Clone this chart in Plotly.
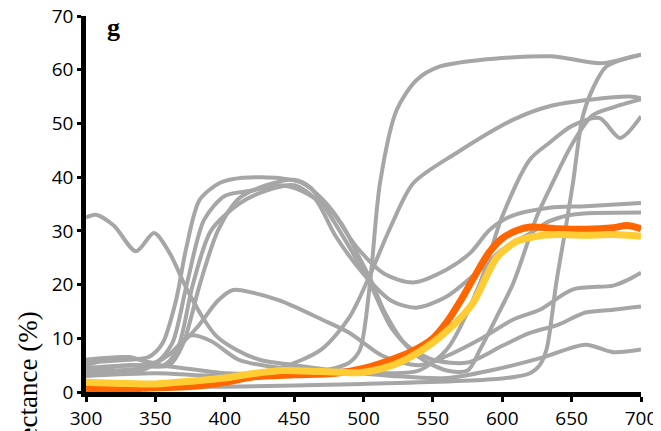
import plotly.graph_objects as go

# ---- data (wavelength nm, reflectance %) ----
g1_x = [300, 307, 320, 336, 349, 360, 372, 385, 394, 408, 425, 450, 480, 520, 560, 600, 630, 660, 680, 700]
g1_y = [32.5, 33.0, 31.0, 26.2, 29.6, 26.0, 19.5, 13.5, 10.4, 7.9, 6.0, 5.0, 4.0, 3.0, 2.6, 4.5, 6.5, 8.8, 7.4, 7.9]

h1_x = [300, 330, 345, 355, 365, 372, 382, 397, 413, 440, 455, 470, 485, 495, 505, 515, 530, 550, 575, 600, 620, 640, 660, 680, 700]
h1_y = [5.5, 6.0, 6.5, 9.0, 17.2, 26.5, 35.8, 39.0, 39.9, 39.8, 39.0, 36.0, 31.0, 26.0, 21.0, 15.0, 9.0, 6.0, 5.5, 8.6, 11.0, 12.5, 14.8, 15.3, 15.9]

h2_x = [300, 330, 350, 362, 372.6, 385, 400, 420, 440, 455, 476, 495, 515, 536, 560, 577, 591, 606, 634, 660, 700]
h2_y = [6.0, 6.5, 5.5, 9.0, 20.0, 32.0, 36.5, 37.5, 38.5, 37.5, 33.9, 27.0, 22.0, 20.4, 22.8, 25.9, 30.2, 32.7, 34.3, 34.6, 35.2]

h3_x = [300, 330, 356, 366, 377, 390, 410, 430, 450, 465, 480, 500, 520, 538, 560, 584, 600, 620, 634, 650, 700]
h3_y = [5.0, 6.5, 5.0, 8.0, 20.0, 30.0, 35.0, 37.5, 38.5, 36.0, 29.0, 22.0, 17.0, 15.7, 17.8, 22.8, 26.5, 29.5, 31.8, 33.0, 33.4]

h4_x = [300, 330, 360, 370, 382, 395, 410, 430, 450, 462, 478, 492, 505, 520, 540, 560, 575, 584, 596, 608, 625, 634, 650, 665, 680, 700]
h4_y = [4.0, 5.0, 5.0, 9.0, 20.0, 30.0, 36.0, 38.5, 39.5, 38.0, 32.0, 26.0, 20.0, 12.0, 6.5, 4.0, 4.0, 7.9, 14.0, 20.3, 32.7, 37.7, 46.0, 51.5, 53.0, 54.5]

k_x = [300, 340, 360, 380, 395, 406, 420, 440, 470, 490, 514, 540, 560, 584, 608, 627, 651, 680, 690, 700]
k_y = [4.0, 4.5, 7.0, 12.0, 17.0, 19.0, 18.5, 17.0, 13.5, 11.0, 6.7, 5.0, 6.7, 9.8, 13.5, 15.3, 19.1, 19.8, 20.8, 22.2]

m_x = [300, 340, 360, 375, 390, 410, 440, 470, 490, 520, 540, 560, 584, 600, 620, 634, 650, 670, 685, 700]
m_y = [3.5, 4.0, 7.0, 10.5, 9.5, 6.0, 4.5, 4.0, 4.0, 3.5, 4.0, 7.9, 20.3, 32.7, 43.3, 46.4, 49.5, 51.0, 47.3, 51.3]

e1_x = [300, 350, 400, 440, 470, 490, 505, 520, 536, 567, 608, 634, 663, 692, 700]
e1_y = [3.0, 3.5, 3.0, 4.5, 8.0, 14.0, 22.0, 31.0, 38.9, 44.5, 50.7, 53.2, 54.4, 55.0, 54.7]

c1_x = [300, 350, 400, 450, 480, 490, 497.5, 504.7, 511.9, 523.9, 538.3, 555.1, 584, 634.4, 670.5, 684.9, 700]
c1_y = [4.5, 5.0, 3.5, 3.5, 4.5, 5.5, 7.9, 20.3, 38.9, 52.5, 58.1, 60.6, 61.8, 62.5, 61.2, 61.8, 62.8]

c2_x = [300, 400, 500, 600, 620, 627, 632, 639, 646, 651, 658, 666, 675, 690, 700]
c2_y = [1.0, 1.0, 1.5, 2.5, 3.5, 5.0, 8.0, 20.4, 31.0, 39.0, 51.3, 56.9, 60.6, 62.2, 62.8]

orange_x = [300, 325, 350, 375, 400, 420, 450, 480, 500, 520, 535, 550, 560, 570, 580, 590, 600, 610, 620, 640, 660, 680, 690, 700]
orange_y = [0.6, 0.5, 0.8, 1.0, 1.8, 2.8, 3.2, 3.5, 4.4, 6.0, 7.6, 10.0, 13.0, 17.0, 21.5, 25.8, 28.6, 30.0, 30.7, 30.4, 30.3, 30.6, 31.0, 30.4]

yellow_x = [300, 325, 350, 375, 400, 420, 442, 470, 497, 515, 530, 550, 565, 579, 596, 610, 625, 640, 660, 680, 700]
yellow_y = [1.8, 1.6, 1.5, 2.0, 2.6, 3.4, 4.0, 3.8, 3.6, 4.5, 6.0, 9.2, 12.5, 16.6, 25.0, 28.0, 29.0, 29.3, 29.2, 29.3, 29.0]

x_ticks = [300, 350, 400, 450, 500, 550, 600, 650, 700]
y_ticks = [0, 10, 20, 30, 40, 50, 60, 70]

GRAY = "#A6A6A6"
gray_series = [(g1_x, g1_y), (h1_x, h1_y), (h2_x, h2_y), (h3_x, h3_y), (h4_x, h4_y),
               (k_x, k_y), (m_x, m_y), (e1_x, e1_y), (c1_x, c1_y), (c2_x, c2_y)]

fig = go.Figure()
for xs, ys in gray_series:
    fig.add_trace(go.Scatter(x=xs, y=ys, mode="lines",
                             line=dict(color=GRAY, width=4, shape="spline", smoothing=0.8),
                             hoverinfo="skip", showlegend=False))
fig.add_trace(go.Scatter(x=orange_x, y=orange_y, mode="lines",
                         line=dict(color="#FF6600", width=7, shape="spline", smoothing=0.8),
                         showlegend=False))
fig.add_trace(go.Scatter(x=yellow_x, y=yellow_y, mode="lines",
                         line=dict(color="#FFCC33", width=7, shape="spline", smoothing=0.8),
                         showlegend=False))

# the page has an 8px body margin, so the figure is drawn 8px smaller and offset
PLOT_L, PLOT_B, PLOT_W, PLOT_H = 78, 384, 555, 376
axis_font = dict(family="Open Sans", size=19, color="black")
fig.update_layout(
    width=653, height=423,
    margin=dict(l=78, r=20, t=8, b=39, autoexpand=False),
    paper_bgcolor="white", plot_bgcolor="white",
    xaxis=dict(range=[300, 700], tickvals=x_ticks, ticks="outside", ticklen=5, tickwidth=3,
               tickcolor="black", showline=True, linewidth=4.5, linecolor="black",
               showgrid=False, zeroline=False, tickfont=axis_font, ticklabeloverflow="allow"),
    yaxis=dict(range=[0, 70], tickvals=y_ticks, ticks="outside", ticklen=4, tickwidth=3,
               tickcolor="black", showline=True, linewidth=4.5, linecolor="black",
               showgrid=False, zeroline=False, tickfont=axis_font, ticklabeloverflow="allow"),
    annotations=[
        dict(text="<b>g</b>", xref="paper", yref="paper",
             x=(105 - PLOT_L) / PLOT_W, y=(PLOT_B - 20) / PLOT_H,
             showarrow=False, xanchor="center", yanchor="middle",
             font=dict(family="Liberation Serif", size=26, color="black")),
        dict(text="Reflectance (%)", xref="paper", yref="paper",
             x=(20 - PLOT_L) / PLOT_W, y=(PLOT_B - 391) / PLOT_H,
             showarrow=False, textangle=-90, xanchor="center", yanchor="middle",
             font=dict(family="Liberation Serif", size=27, color="black")),
    ],
)

fig.write_html("out.html")
